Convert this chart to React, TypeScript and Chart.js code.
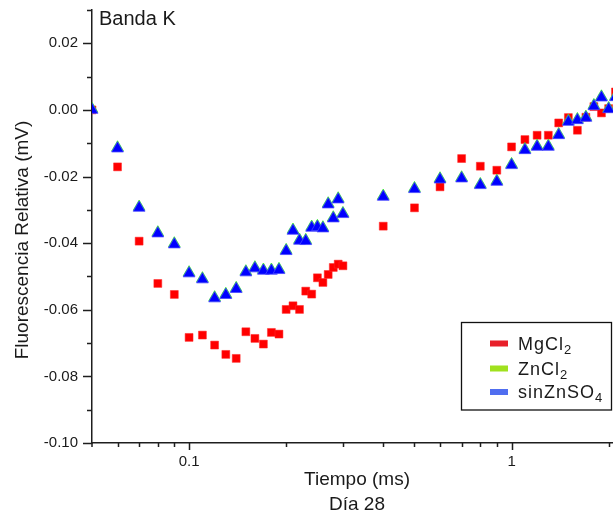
import { useEffect, useRef } from 'react';
import { Chart, registerables } from 'chart.js';

Chart.register(...registerables);

const FONT = "'Liberation Sans', Arial, sans-serif";
const AXIS = '#1e1e1e';

// Tiempo (ms)
const tiempo = [
  0.05, 0.06, 0.07, 0.08, 0.09, 0.1, 0.11, 0.12, 0.13, 0.14, 0.15, 0.16, 0.17,
  0.18, 0.19, 0.2, 0.21, 0.22, 0.23, 0.24, 0.25, 0.26, 0.27, 0.28, 0.29, 0.3,
  0.4, 0.5, 0.6, 0.7, 0.8, 0.9, 1.0, 1.1, 1.2, 1.3, 1.4, 1.5, 1.6, 1.7, 1.8,
  1.9, 2.0, 2.1,
];

const mgcl2 = [
  0.0, -0.0171, -0.0394, -0.0521, -0.0554, -0.0683, -0.0676, -0.0706, -0.0734,
  -0.0746, -0.0666, -0.0686, -0.0703, -0.0668, -0.0673, -0.0599, -0.0588,
  -0.0599, -0.0544, -0.0553, -0.0504, -0.0518, -0.0494, -0.0473, -0.0463,
  -0.0468, -0.0349, -0.0294, -0.0231, -0.0146, -0.0169, -0.0181, -0.0111,
  -0.0089, -0.0076, -0.0076, -0.0039, -0.0023, -0.0061, -0.0022, 0.001,
  -0.0009, 0.0004, 0.0054,
];

const zncl2 = [
  0.0003, -0.0113, -0.0291, -0.0368, -0.0401, -0.0488, -0.0506, -0.0563,
  -0.0553, -0.0535, -0.0485, -0.0473, -0.048, -0.048, -0.0478, -0.0421,
  -0.036, -0.039, -0.0391, -0.0351, -0.0349, -0.0353, -0.0281, -0.0323,
  -0.0266, -0.031, -0.0258, -0.0235, -0.0206, -0.0203, -0.0223, -0.0213,
  -0.0163, -0.0118, -0.0108, -0.0108, -0.0073, -0.0033, -0.0028, -0.0021,
  0.0014, 0.004, 0.0005, 0.0041,
];

const sinZnSO4 = [
  0.0, -0.0116, -0.0294, -0.0371, -0.0404, -0.0491, -0.0509, -0.0566, -0.0556,
  -0.0538, -0.0488, -0.0476, -0.0483, -0.0483, -0.0481, -0.0424, -0.0363,
  -0.0393, -0.0394, -0.0354, -0.0352, -0.0356, -0.0284, -0.0326, -0.0269,
  -0.0313, -0.0261, -0.0238, -0.0209, -0.0206, -0.0226, -0.0216, -0.0166,
  -0.0121, -0.0111, -0.0111, -0.0076, -0.0036, -0.0031, -0.0024, 0.0011,
  0.0037, 0.0002, 0.0038,
];

const xMajorTicks = [0.1, 1];
const xMinorTicks = [0.06, 0.07, 0.08, 0.09, 0.2, 0.3, 0.4, 0.5, 0.6, 0.7, 0.8, 0.9, 2];
const yMajorTicks = [-0.1, -0.08, -0.06, -0.04, -0.02, 0, 0.02];
const yMinorTicks = [-0.09, -0.07, -0.05, -0.03, -0.01, 0.01, 0.03];

const seriesNames = ['MgCl', 'ZnCl', 'sinZnSO'];
const seriesSubs = ['2', '2', '4'];
const seriesLabels = ['MgCl₂', 'ZnCl₂', 'sinZnSO₄'];
const legendColors = ['rgb(232,32,42)', 'rgb(160,225,30)', 'rgb(80,110,240)'];

const toPoints = (ys: number[]) => tiempo.map((x, i) => ({ x, y: ys[i] }));

const zeroPad = (scale: any) => {
  scale.paddingTop = 0;
  scale.paddingBottom = 0;
  scale.paddingLeft = 0;
  scale.paddingRight = 0;
};

const decorPlugin = {
  id: 'decor',
  afterDraw(chart: any) {
    const { ctx, chartArea, scales } = chart;
    const xs = scales.x;
    const ys = scales.y;
    ctx.save();
    ctx.strokeStyle = AXIS;
    ctx.lineWidth = 1.5;
    ctx.beginPath();
    const b = chartArea.bottom;
    const l = chartArea.left;
    for (const v of xMajorTicks) {
      const p = Math.round(xs.getPixelForValue(v)) + 0.5;
      ctx.moveTo(p, b);
      ctx.lineTo(p, b + 7);
    }
    for (const v of xMinorTicks) {
      const p = Math.round(xs.getPixelForValue(v)) + 0.5;
      ctx.moveTo(p, b);
      ctx.lineTo(p, b + 4);
    }
    for (const v of yMajorTicks) {
      const p = Math.round(ys.getPixelForValue(v)) + 0.5;
      ctx.moveTo(l, p);
      ctx.lineTo(l - 9, p);
    }
    for (const v of yMinorTicks) {
      const p = Math.round(ys.getPixelForValue(v)) + 0.5;
      ctx.moveTo(l, p);
      ctx.lineTo(l - 5, p);
    }
    ctx.moveTo(l, b);
    ctx.lineTo(l, b + 4);
    ctx.stroke();

    // y-axis title
    ctx.fillStyle = '#1a1a1a';
    ctx.font = `19px ${FONT}`;
    ctx.textAlign = 'center';
    ctx.textBaseline = 'middle';
    ctx.save();
    ctx.translate(23, 240);
    ctx.rotate(-Math.PI / 2);
    ctx.fillText('Fluorescencia Relativa (mV)', 0, 0);
    ctx.restore();

    // panel label
    ctx.textAlign = 'left';
    ctx.font = `20px ${FONT}`;
    ctx.fillText('Banda K', l + 7, 19);

    // legend box
    const bx = 461.5;
    const by = 322.5;
    const bw = 150;
    const bh = 87.5;
    ctx.fillStyle = '#fff';
    ctx.fillRect(bx, by, bw, bh);
    ctx.strokeStyle = '#111';
    ctx.lineWidth = 1.3;
    ctx.strokeRect(bx, by, bw, bh);
    const rowY = [343.5, 368.5, 392];
    for (let i = 0; i < seriesNames.length; i++) {
      const cy = rowY[i];
      ctx.fillStyle = legendColors[i];
      ctx.fillRect(490, cy - 3, 18, 6);
      ctx.fillStyle = '#1a1a1a';
      ctx.font = `18px ${FONT}`;
      (ctx as any).letterSpacing = '1px';
      ctx.textBaseline = 'alphabetic';
      const base = cy + 6;
      ctx.fillText(seriesNames[i], 518, base);
      const w = ctx.measureText(seriesNames[i]).width;
      ctx.font = `13px ${FONT}`;
      ctx.fillText(seriesSubs[i], 518 + w, base + 4);
      (ctx as any).letterSpacing = '0px';
    }
    ctx.restore();
  },
};

export default function App() {
  const ref = useRef<HTMLCanvasElement>(null);
  useEffect(() => {
    const chart = new Chart(ref.current as HTMLCanvasElement, {
      type: 'scatter',
      data: {
        datasets: [
          {
            label: seriesLabels[0],
            data: toPoints(mgcl2),
            pointStyle: 'rect',
            pointRadius: 5.6,
            backgroundColor: 'rgb(255,0,0)',
            borderColor: 'rgb(255,40,40)',
            borderWidth: 0.5,
            clip: 0,
            order: 3,
          },
          {
            label: seriesLabels[1],
            data: toPoints(zncl2),
            pointStyle: 'triangle',
            pointRadius: 6.8,
            backgroundColor: 'rgb(0,210,0)',
            borderColor: 'rgb(60,230,60)',
            borderWidth: 0.8,
            clip: 0,
            order: 2,
          },
          {
            label: seriesLabels[2],
            data: toPoints(sinZnSO4),
            pointStyle: 'triangle',
            pointRadius: 6.8,
            backgroundColor: 'rgb(0,0,255)',
            borderColor: 'rgb(70,70,255)',
            borderWidth: 0.8,
            clip: 0,
            order: 1,
          },
        ],
      } as any,
      options: {
        animation: false,
        responsive: false,
        maintainAspectRatio: false,
        layout: { padding: { top: 10, right: 8, left: 0, bottom: 0 } },
        plugins: {
          legend: { display: false },
          tooltip: { enabled: false },
        },
        scales: {
          x: {
            type: 'logarithmic',
            min: 0.05,
            max: 2.2,
            grid: { display: false, drawTicks: false },
            border: { display: true, color: AXIS, width: 1.5 },
            afterBuildTicks: (scale: any) => {
              scale.ticks = [...xMajorTicks, ...xMinorTicks]
                .sort((a, b) => a - b)
                .map((v) => ({ value: v }));
            },
            afterFit: (scale: any) => {
              scale.height = 74;
              zeroPad(scale);
            },
            ticks: {
              autoSkip: false,
              maxRotation: 0,
              padding: 10,
              color: '#1a1a1a',
              font: { family: FONT, size: 15 },
              callback: (v: any) => {
                const n = Number(v);
                return xMajorTicks.some((t) => Math.abs(t - n) < 1e-9) ? String(n) : '';
              },
            },
            title: {
              display: true,
              text: ['Tiempo (ms)', 'Día 28'],
              color: '#1a1a1a',
              font: { family: FONT, size: 19, lineHeight: '25px' },
              padding: { top: 0, bottom: 0 },
            },
          },
          y: {
            type: 'linear',
            min: -0.1,
            max: 0.03,
            grid: { display: false, drawTicks: false },
            border: { display: true, color: AXIS, width: 1.5 },
            afterBuildTicks: (scale: any) => {
              scale.ticks = yMajorTicks.map((v) => ({ value: v }));
            },
            afterFit: (scale: any) => {
              scale.width = 92;
              zeroPad(scale);
            },
            ticks: {
              autoSkip: false,
              padding: 14,
              color: '#1a1a1a',
              font: { family: FONT, size: 15 },
              callback: (v: any) => Number(v).toFixed(2),
            },
          },
        },
      } as any,
      plugins: [decorPlugin],
    });
    return () => chart.destroy();
  }, []);

  return (
    <div
      style={{
        position: 'fixed',
        left: 0,
        top: 0,
        width: 613,
        height: 517,
        overflow: 'hidden',
        background: '#fff',
      }}
    >
      <canvas ref={ref} width={630} height={517} style={{ display: 'block', width: 630, height: 517 }} />
    </div>
  );
}
